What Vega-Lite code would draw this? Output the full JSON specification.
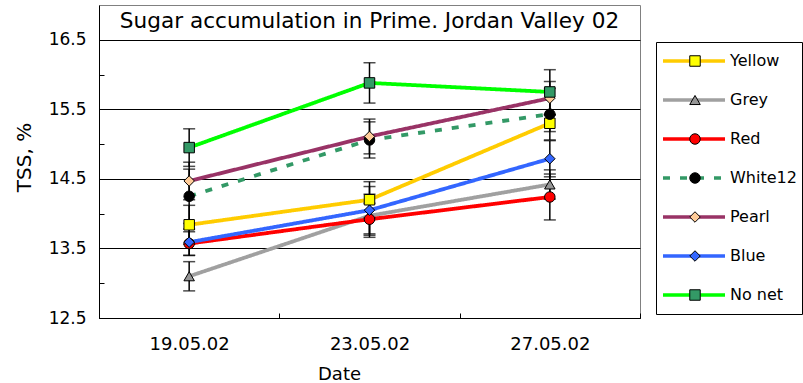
{
  "$schema": "https://vega.github.io/schema/vega-lite/v6.json",
  "width": 541,
  "height": 313,
  "autosize": "none",
  "padding": {"left": 99, "top": 5, "right": 163, "bottom": 65},
  "background": "white",
  "config": {
    "font": "DejaVu Sans",
    "view": {"stroke": "#808080", "strokeWidth": 1}
  },
  "datasets": {
    "tss": [
      {"series": "Yellow", "date": "19.05.02", "tss": 13.84, "err": 0.28},
      {"series": "Yellow", "date": "23.05.02", "tss": 14.20, "err": 0.26},
      {"series": "Yellow", "date": "27.05.02", "tss": 15.30, "err": 0.12},
      {"series": "Grey", "date": "19.05.02", "tss": 13.10, "err": 0.21},
      {"series": "Grey", "date": "23.05.02", "tss": 13.97, "err": 0.31},
      {"series": "Grey", "date": "27.05.02", "tss": 14.42, "err": 0.21},
      {"series": "Red", "date": "19.05.02", "tss": 13.57, "err": 0.17},
      {"series": "Red", "date": "23.05.02", "tss": 13.92, "err": 0.23},
      {"series": "Red", "date": "27.05.02", "tss": 14.24, "err": 0.33},
      {"series": "White12", "date": "19.05.02", "tss": 14.25, "err": 0.39},
      {"series": "White12", "date": "23.05.02", "tss": 15.06, "err": 0.26},
      {"series": "White12", "date": "27.05.02", "tss": 15.43, "err": 0.37},
      {"series": "Pearl", "date": "19.05.02", "tss": 14.47, "err": 0.27},
      {"series": "Pearl", "date": "23.05.02", "tss": 15.11, "err": 0.25},
      {"series": "Pearl", "date": "27.05.02", "tss": 15.66, "err": 0.24},
      {"series": "Blue", "date": "19.05.02", "tss": 13.59, "err": 0.19},
      {"series": "Blue", "date": "23.05.02", "tss": 14.05, "err": 0.34},
      {"series": "Blue", "date": "27.05.02", "tss": 14.79, "err": 0.26},
      {"series": "No net", "date": "19.05.02", "tss": 14.95, "err": 0.27},
      {"series": "No net", "date": "23.05.02", "tss": 15.88, "err": 0.29},
      {"series": "No net", "date": "27.05.02", "tss": 15.75, "err": 0.32}
    ]
  },
  "data": {"name": "tss"},
  "encoding": {
    "x": {
      "field": "date",
      "type": "nominal",
      "sort": ["19.05.02", "23.05.02", "27.05.02"],
      "scale": {"type": "band", "paddingInner": 0, "paddingOuter": 0},
      "axis": {
        "title": "Date",
        "labelAngle": 0,
        "tickBand": "extent",
        "tickSize": -5,
        "tickColor": "black",
        "domainColor": "black",
        "labelFontSize": 18,
        "labelColor": "black",
        "labelPadding": 22,
        "titleFontSize": 18,
        "titleFontWeight": "normal",
        "titleColor": "black",
        "titleX": 240,
        "titleY": 47,
        "titleBaseline": "top",
        "titleAlign": "center"
      }
    },
    "y": {
      "field": "tss",
      "type": "quantitative",
      "scale": {"domain": [12.5, 17.0], "nice": false, "zero": false},
      "axis": {
        "title": "TSS, %",
        "values": [12.5, 13, 13.5, 14, 14.5, 15, 15.5, 16, 16.5],
        "labelExpr": "datum.value % 1 == 0.5 ? format(datum.value, '.1f') : ''",
        "grid": true,
        "gridColor": "black",
        "gridOpacity": {"condition": {"test": "datum.value % 1 == 0", "value": 0}, "value": 1},
        "tickSize": -5,
        "tickColor": "black",
        "domainColor": "black",
        "labelFontSize": 17,
        "labelColor": "black",
        "labelPadding": 18,
        "titleFontSize": 20,
        "titleFontWeight": "normal",
        "titleColor": "black",
        "titleX": -75,
        "titleY": 152,
        "titleAngle": -90,
        "titleBaseline": "middle",
        "titleAlign": "center"
      }
    }
  },
  "layer": [
    {
      "mark": {"type": "line", "strokeWidth": 3.8},
      "encoding": {
        "color": {
          "field": "series",
          "type": "nominal",
          "scale": {
            "domain": ["Yellow", "Grey", "Red", "White12", "Pearl", "Blue", "No net"],
            "range": ["#FFCC00", "#A0A0A0", "#FF0000", "#339966", "#993366", "#3366FF", "#00FF00"]
          },
          "legend": {
            "orient": "none",
            "legendX": 557,
            "legendY": 37,
            "title": null,
            "strokeColor": "black",
            "padding": 5,
            "clipHeight": 28,
            "rowPadding": 11,
            "symbolType": "stroke",
            "symbolSize": 3844,
            "symbolStrokeWidth": 3.5,
            "labelFontSize": 16,
            "labelOffset": 3,
            "labelColor": "black",
            "labelFont": "DejaVu Sans"
          }
        },
        "strokeDash": {
          "field": "series",
          "type": "nominal",
          "scale": {
            "domain": ["Yellow", "Grey", "Red", "White12", "Pearl", "Blue", "No net"],
            "range": [[1, 0], [1, 0], [1, 0], [7, 10], [1, 0], [1, 0], [1, 0]]
          }
        }
      }
    },
    {
      "mark": {
        "type": "errorbar",
        "ticks": {"size": 12, "thickness": 1.5, "color": "black"},
        "rule": {"strokeWidth": 1.5, "color": "black"}
      },
      "encoding": {
        "yError": {"field": "err"}
      }
    },
    {
      "mark": {"type": "point", "filled": true, "size": 110, "stroke": "black", "strokeWidth": 1, "opacity": 1},
      "encoding": {
        "fill": {
          "field": "series",
          "type": "nominal",
          "scale": {
            "domain": ["Yellow", "Grey", "Red", "White12", "Pearl", "Blue", "No net", " "],
            "range": ["#FFFF00", "#969696", "#FF0000", "#000000", "#FFCC99", "#3366FF", "#339966", "transparent"]
          },
          "legend": {
            "orient": "none",
            "legendX": 583,
            "legendY": 37,
            "title": null,
            "values": ["Yellow", "Grey", "Red", "White12", "Pearl", "Blue", "No net"],
            "padding": 5,
            "clipHeight": 28,
            "rowPadding": 11,
            "symbolSize": 110,
            "symbolStrokeColor": "black",
            "symbolStrokeWidth": 1,
            "labelFontSize": 16,
            "labelExpr": "''"
          }
        },
        "shape": {
          "field": "series",
          "type": "nominal",
          "scale": {
            "domain": ["Yellow", "Grey", "Red", "White12", "Pearl", "Blue", "No net", " "],
            "range": ["square", "triangle-up", "circle", "circle", "diamond", "diamond", "square", "circle"]
          }
        }
      }
    },
    {
      "transform": [{"filter": "datum.series == 'Yellow' && datum.date == '23.05.02'"}],
      "mark": {"type": "text", "fontSize": 21.6, "font": "DejaVu Sans", "color": "black", "baseline": "middle", "align": "center"},
      "encoding": {
        "y": {"datum": 16.75},
        "text": {"value": "Sugar accumulation in Prime. Jordan Valley 02"}
      }
    }
  ]
}
